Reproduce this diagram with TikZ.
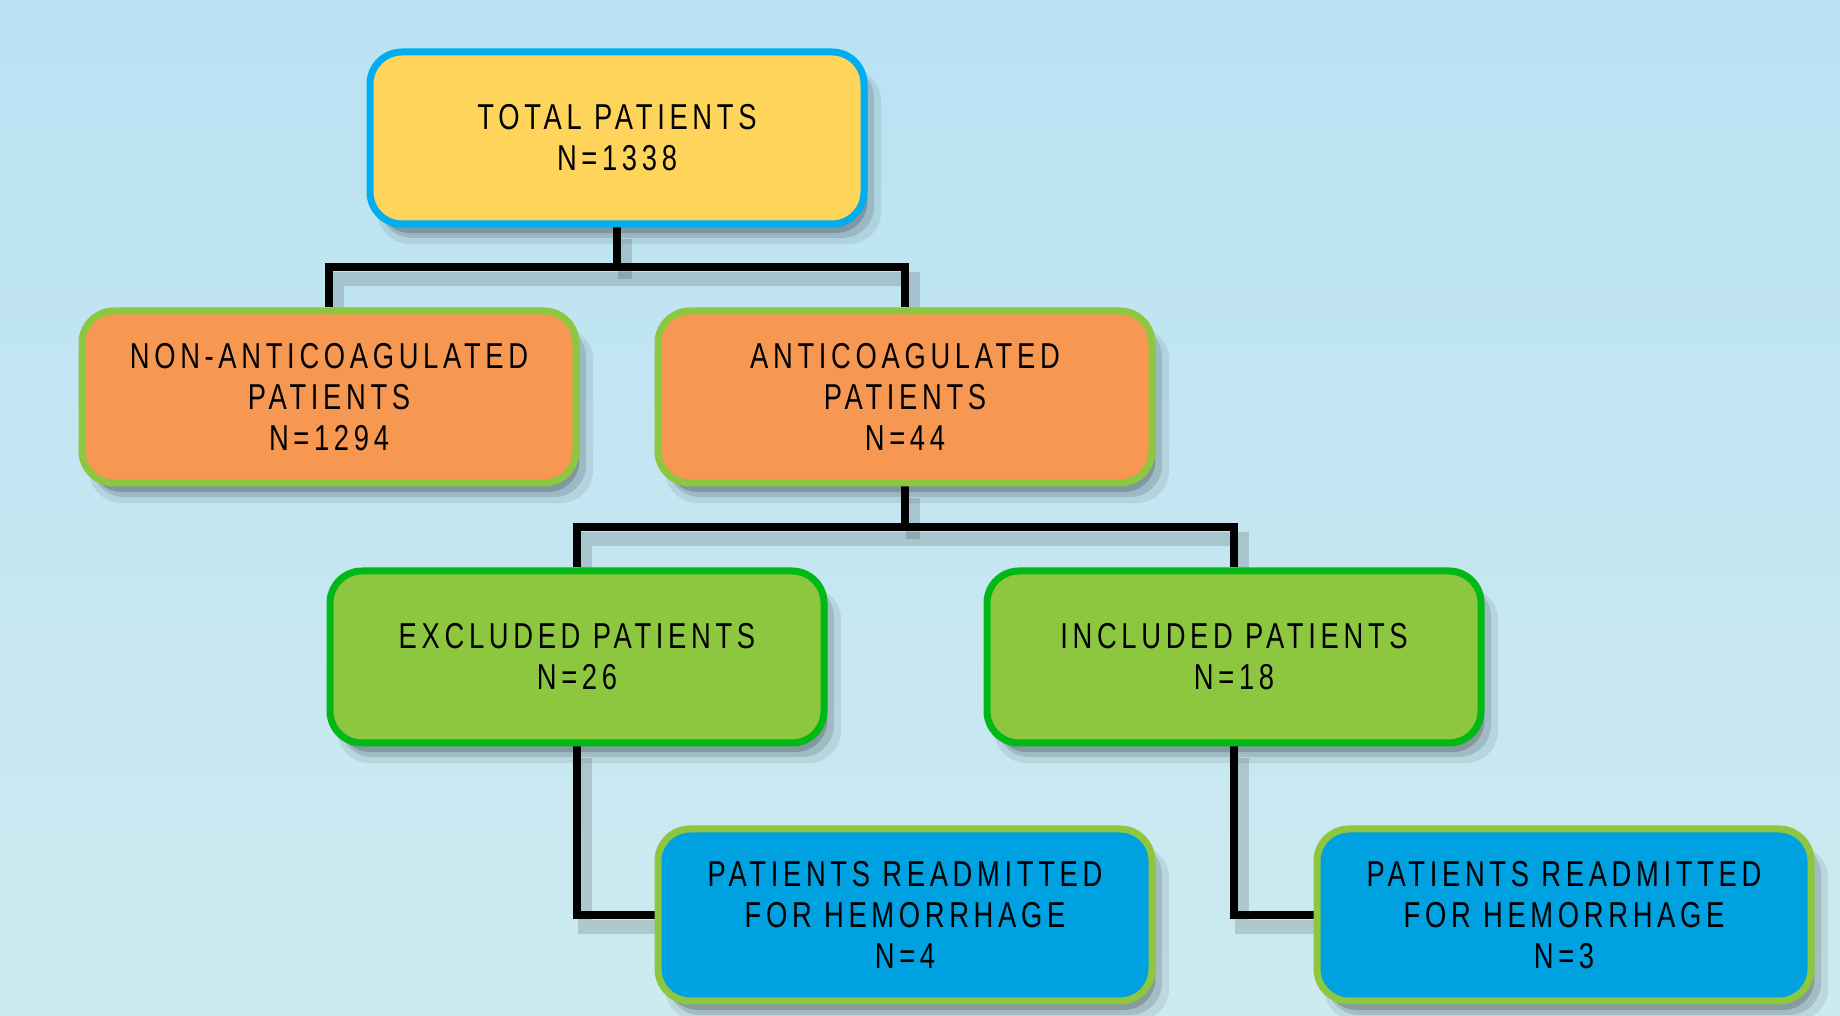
\documentclass[tikz,border=0pt]{standalone}
\usepackage{fontspec}
\setmainfont{Liberation Sans}[FakeStretch=0.76, LetterSpace=13]
\usepackage{tikz}
\usetikzlibrary{positioning, calc, shadows}
\definecolor{skytop}{RGB}{186, 226, 243}
\definecolor{skybottom}{RGB}{205, 234, 240}
\definecolor{boxyellow}{RGB}{255, 212, 90}
\definecolor{boxorange}{RGB}{247, 152, 82}
\definecolor{boxgreen}{RGB}{141, 198, 63}
\definecolor{boxblue}{RGB}{0, 161, 224}
\definecolor{rimblue}{RGB}{0, 174, 239}
\definecolor{rimgreen}{RGB}{0, 185, 21}
\pgfdeclarelayer{back}
\pgfdeclarelayer{links}
\pgfsetlayers{back, links, main}

\begin{document}
\begin{tikzpicture}[x=0.5pt, y=0.5pt,
    softshadow/.style={
        general shadow={shadow xshift=6pt, shadow yshift=-9pt, shadow scale=1.02, fill=black, opacity=0.08},
        general shadow={shadow xshift=5pt, shadow yshift=-7pt, fill=black, opacity=0.12},
        general shadow={shadow xshift=3pt, shadow yshift=-5pt, shadow scale=0.99, fill=black, opacity=0.18}},
    box/.style={rounded corners=16pt, line width=3.5pt, minimum width=247pt,
        minimum height=86pt, align=center, font=\fontsize{18}{20.5}\selectfont, softshadow},
    link/.style={line width=4pt, line join=miter,
        preaction={draw, line width=7pt, black, opacity=0.14, transform canvas={xshift=4pt, yshift=-6pt}}}]
    % background
    \begin{pgfonlayer}{back}
        \shade[top color=skytop, bottom color=skybottom] (0,0) rectangle (1840,1016);
    \end{pgfonlayer}
    \useasboundingbox (0,0) rectangle (1840,1016);

    % boxes
    \node[box, fill=boxyellow, draw=rimblue] (total) at (617,878) {TOTAL PATIENTS\\N=1338};
    \node[box, fill=boxorange, draw=boxgreen] (nonanti) at (329,619) {NON-ANTICOAGULATED\\PATIENTS\\N=1294};
    \node[box, fill=boxorange, draw=boxgreen] (anti) at (905,619) {ANTICOAGULATED\\PATIENTS\\N=44};
    \node[box, fill=boxgreen, draw=rimgreen] (excl) at (577,359) {EXCLUDED PATIENTS\\N=26};
    \node[box, fill=boxgreen, draw=rimgreen] (incl) at (1234,359) {INCLUDED PATIENTS\\N=18};
    \node[box, fill=boxblue, draw=boxgreen] (readA) at (905,101) {PATIENTS READMITTED\\FOR HEMORRHAGE\\N=4};
    \node[box, fill=boxblue, draw=boxgreen] (readB) at (1564,101) {PATIENTS READMITTED\\FOR HEMORRHAGE\\N=3};

    % connectors
    \begin{pgfonlayer}{links}
        \coordinate (splitA) at ($(total.south)!0.5!(total.south|-anti.north)$);
        \coordinate (splitB) at ($(anti.south)!0.5!(anti.south|-incl.north)$);
        \draw[link] (total.south) -- (splitA);
        \draw[link] (nonanti.north) |- (splitA) -| (anti.north);
        \draw[link] (anti.south) -- (splitB);
        \draw[link] (excl.north) |- (splitB) -| (incl.north);
        \draw[link] (excl.south) |- (readA.west);
        \draw[link] (incl.south) |- (readB.west);
    \end{pgfonlayer}
\end{tikzpicture}
\end{document}
